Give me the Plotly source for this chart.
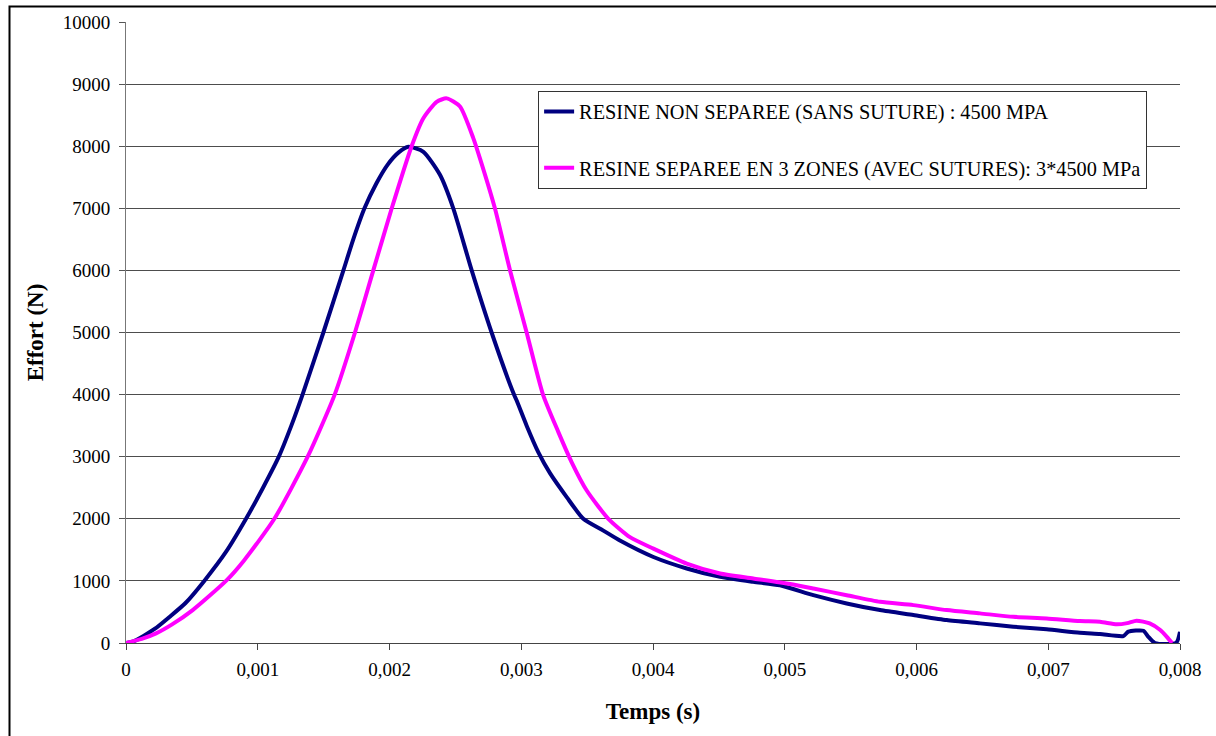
import plotly.graph_objects as go

# --- Data ---
t_non_separee = [0, 0.00005, 0.00013, 0.00022, 0.00033, 0.00045, 0.000594, 0.00076, 0.000911,
                 0.00104, 0.00116, 0.001255, 0.00134, 0.001498, 0.00165, 0.001725, 0.00181,
                 0.0019, 0.001985, 0.00207, 0.002143, 0.002257, 0.002383, 0.002484, 0.002624,
                 0.002775, 0.002945, 0.002966, 0.003041, 0.00313, 0.003218, 0.003345, 0.003471,
                 0.003623, 0.003749, 0.004003, 0.004256, 0.004509, 0.004761, 0.004964, 0.005217,
                 0.00547, 0.005723, 0.005976, 0.006229, 0.006482, 0.006735, 0.006988, 0.00724,
                 0.007393, 0.00757, 0.007608, 0.007722, 0.00776, 0.00781, 0.00797, 0.008]
f_non_separee = [0, 20, 110, 230, 420, 640, 1000, 1470, 2000,
                 2500, 3000, 3500, 4000, 5000, 6000, 6500, 7000,
                 7400, 7700, 7900, 7990, 7910, 7540, 7000, 6000,
                 5000, 4000, 3900, 3500, 3070, 2735, 2350, 2000,
                 1810, 1650, 1385, 1200, 1065, 985, 930, 770,
                 637, 530, 450, 369, 316, 262, 220, 165,
                 145, 112, 182, 197, 100, 0, 0, 180]

t_separee = [0, 0.00013, 0.000228, 0.00035, 0.000506, 0.000759, 0.000896, 0.001126, 0.001379,
             0.001584, 0.001738, 0.001877, 0.002017, 0.002168, 0.002257, 0.002358, 0.002434,
             0.002535, 0.002636, 0.002687, 0.0028, 0.002915, 0.003041, 0.003165, 0.003281,
             0.003383, 0.003497, 0.003661, 0.003825, 0.004003, 0.004256, 0.004509, 0.004761,
             0.00504, 0.005217, 0.00547, 0.005723, 0.005976, 0.006229, 0.006482, 0.006735,
             0.006988, 0.00724, 0.007393, 0.00752, 0.0076, 0.00767, 0.00777, 0.00785,
             0.0079, 0.00794]
f_separee = [0, 75, 155, 300, 530, 1000, 1330, 2000, 3000,
             4000, 5000, 6000, 7000, 8000, 8450, 8715, 8770,
             8640, 8130, 7800, 7000, 6000, 5000, 4000, 3400,
             2910, 2455, 2000, 1705, 1520, 1280, 1120, 1040,
             950, 878, 770, 663, 610, 530, 477, 422,
             396, 353, 342, 300, 320, 360, 316, 209,
             100, 0]

name_non_separee = "RESINE NON SEPAREE (SANS SUTURE) : 4500 MPA"
name_separee = "RESINE SEPAREE EN 3 ZONES (AVEC SUTURES): 3*4500 MPa"

x_tickvals = [0, 0.001, 0.002, 0.003, 0.004, 0.005, 0.006, 0.007, 0.008]
x_ticktext = ["0", "0,001", "0,002", "0,003", "0,004", "0,005", "0,006", "0,007", "0,008"]
y_tickvals = [0, 1000, 2000, 3000, 4000, 5000, 6000, 7000, 8000, 9000, 10000]
y_ticktext = [str(v) for v in y_tickvals]

FONT = "Liberation Serif, Times New Roman, serif"

fig = go.Figure()
fig.add_trace(go.Scatter(x=t_non_separee, y=f_non_separee, mode="lines", name=name_non_separee,
                         line=dict(color="#000080", width=4, shape="spline", smoothing=0.6),
                         legendgroup="a"))
fig.add_trace(go.Scatter(x=t_separee, y=f_separee, mode="lines", name=name_separee,
                         line=dict(color="#FF00FF", width=4, shape="spline", smoothing=0.6),
                         legendgroup="b"))

fig.update_layout(
    width=1216, height=736,
    margin=dict(l=126, r=36, t=20, b=93),
    paper_bgcolor="white", plot_bgcolor="white",
    font=dict(family=FONT, size=19, color="black"),
    showlegend=True,
    legend=dict(x=0.391, y=(643 - 89) / 623, xanchor="left", yanchor="top",
                bgcolor="white", bordercolor="#333333", borderwidth=1,
                font=dict(family=FONT, size=20.3, color="black"),
                traceorder="grouped", tracegroupgap=27, itemwidth=30),
    xaxis=dict(range=[0, 0.008], tickvals=x_tickvals, ticktext=x_ticktext,
               showgrid=False, zeroline=False, showline=True, linecolor="#444444", linewidth=1,
               ticks="outside", ticklen=6, tickcolor="#444444", ticklabelstandoff=3,
               title=dict(text="<b>Temps (s)</b>", standoff=24,
                          font=dict(family=FONT, size=23))),
    yaxis=dict(range=[0, 10000], tickvals=y_tickvals, ticktext=y_ticktext,
               showgrid=True, gridcolor="#4d4d4d", gridwidth=1, zeroline=False,
               showline=True, linecolor="#777777", linewidth=1,
               ticks="outside", ticklen=6, tickcolor="#555555", ticklabelstandoff=5,
               title=dict(text="<b>Effort (N)</b>", standoff=12,
                          font=dict(family=FONT, size=23))),
    shapes=[dict(type="rect", xref="paper", yref="paper",
                 x0=(9.5 - 126) / 1054, x1=(1230 - 126) / 1054,
                 y0=(643 - 760) / 623, y1=(643 - 4.5) / 623,
                 line=dict(color="black", width=2), fillcolor="rgba(0,0,0,0)", layer="below")],
)

fig.write_html("out.html", config={"displayModeBar": False},
               post_script="document.body.style.margin='0';")
